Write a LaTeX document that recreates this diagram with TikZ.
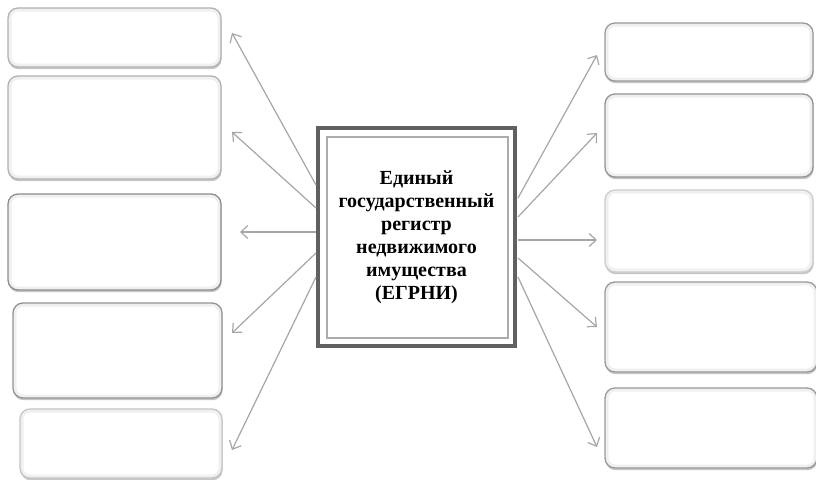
\documentclass[tikz,border=0pt]{standalone}
\usepackage{fontspec}
\setmainfont{Liberation Serif}
\usetikzlibrary{arrows.meta,calc,shadows}
\tikzset{
  slot/.style={rectangle, rounded corners=10pt, draw=#1, line width=1.3pt, fill=white,
    inner sep=0pt, outer sep=0pt,
    drop shadow={shadow xshift=0.6pt, shadow yshift=-2.2pt, fill=gray!75, opacity=0.6},
    path picture={\draw[gray!12, line width=7pt, rounded corners=10pt]
      (path picture bounding box.south west) rectangle (path picture bounding box.north east);}},
  arr/.style={draw=gray!70, line width=1.2pt, -{Straight Barb[length=7pt,width=13pt]}},
  hub/.style={rectangle, draw=gray!75!black, line width=3.5pt, fill=white,
    minimum width=197pt, minimum height=218pt, inner sep=0pt, outer sep=0pt,
    align=center, font=\fontsize{20}{23}\selectfont\bfseries}
}
\begin{document}
\begin{tikzpicture}[x=1pt,y=-1pt]
\path[use as bounding box, fill=white] (0,0) rectangle (816,479);

% central node
\node[hub] (c) at (416.5,237) {Единый\\государственный\\регистр\\недвижимого\\имущества\\(ЕГРНИ)};
\draw[gray!65, line width=1.4pt] ($(c.north west)+(9,9)$) rectangle ($(c.south east)+(-7,-8)$);

% left boxes
\node[slot=gray!60, minimum width=213pt, minimum height=59pt]  (L1) at (114.5,37.5) {};
\node[slot=gray!60, minimum width=213pt, minimum height=103pt] (L2) at (114.5,127.5) {};
\node[slot=gray!90, minimum width=213pt, minimum height=96pt]  (L3) at (114.5,242) {};
\node[slot=gray!85, minimum width=209pt, minimum height=95pt]  (L4) at (117.5,350.5) {};
\node[slot=gray!45, minimum width=202pt, minimum height=69pt]  (L5) at (121,443.5) {};

% right boxes
\node[slot=gray!80, minimum width=208pt, minimum height=58pt]  (R1) at (709,52) {};
\node[slot=gray!85, minimum width=208pt, minimum height=83pt]  (R2) at (709,135.5) {};
\node[slot=gray!40, minimum width=208pt, minimum height=82pt]  (R3) at (709,231) {};
\node[slot=gray!80, minimum width=212pt, minimum height=90pt]  (R4) at (711,327) {};
\node[slot=gray!80, minimum width=212pt, minimum height=80pt]  (R5) at (711,428) {};

% left arrows
\draw[arr] ($(c.west)+(-2,-52)$) -- ($(L1.east)+(11,-4.5)$);
\draw[arr] ($(c.west)+(-2,-29)$) -- ($(L2.east)+(11,4.5)$);
\draw[arr] ($(c.west)+(-2,-5)$)  -- ($(L3.east)+(19,-10)$);
\draw[arr] ($(c.west)+(-2,16)$)  -- ($(L4.east)+(10,-17.5)$);
\draw[arr] ($(c.west)+(-2,40)$)  -- ($(L5.east)+(10,6.5)$);

% right arrows
\draw[arr] ($(c.east)+(3,-39)$) -- ($(R1.west)+(-8,3)$);
\draw[arr] ($(c.east)+(3,-20)$) -- ($(R2.west)+(-8,-2.5)$);
\draw[arr] ($(c.east)+(3,3)$)   -- ($(R3.west)+(-8,9)$);
\draw[arr] ($(c.east)+(3,21)$)  -- ($(R4.west)+(-8,0)$);
\draw[arr] ($(c.east)+(3,40)$)  -- ($(R5.west)+(-8,19)$);
\end{tikzpicture}
\end{document}
